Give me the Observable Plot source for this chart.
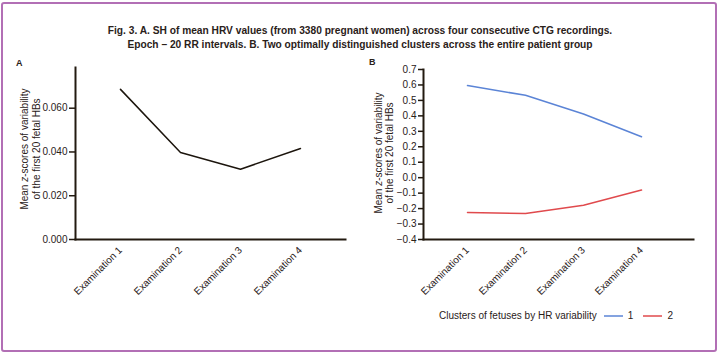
<!DOCTYPE html>
<html><head><meta charset="utf-8">
<script src="https://cdn.jsdelivr.net/npm/d3@7"></script>
<script src="https://cdn.jsdelivr.net/npm/@observablehq/plot@0.6"></script>
<style>
body{margin:0;background:#fff;}
#wrap{position:relative;width:720px;height:356px;overflow:hidden;font-family:"Liberation Sans",Arial,sans-serif;color:#2a2119;background:#fff;}
#frame{position:absolute;left:1px;top:2px;width:712px;height:346px;border:2px solid #b26fb5;border-radius:3px;}
#title{position:absolute;left:0;top:24px;width:720px;text-align:center;font-weight:bold;font-size:10.2px;line-height:13.5px;}
.plab{position:absolute;font-weight:bold;font-size:9px;line-height:10px;}
.panel{position:absolute;}
#legend{position:absolute;left:439px;top:309px;font-size:10px;line-height:14px;display:flex;align-items:center;white-space:nowrap;}
#legend svg{display:block;}
</style></head>
<body>
<div id="wrap">
  <div id="frame"></div>
  <div id="title">Fig. 3. A. SH of mean HRV values (from 3380 pregnant women) across four consecutive CTG recordings.<br>Epoch – 20 RR intervals. B. Two optimally distinguished clusters across the entire patient group</div>
  <div class="plab" style="left:16px;top:58px;">A</div>
  <div class="plab" style="left:369px;top:57px;">B</div>
  <div class="panel" id="pa" style="left:0;top:60px;"></div>
  <div class="panel" id="pb" style="left:360px;top:60px;"></div>
  <div id="legend"></div>
</div>
<script>
const exams = ["Examination 1", "Examination 2", "Examination 3", "Examination 4"];
const meanA = [0.0686, 0.0398, 0.0321, 0.0416];
const cluster1 = [0.596, 0.533, 0.412, 0.265];
const cluster2 = [-0.225, -0.232, -0.178, -0.080];
const clusterNames = ["1", "2"];
const clusterColors = ["#5b84d6", "#e04a4d"];
const ticksA = [0, 0.02, 0.04, 0.06];
const ticksB = [-0.4, -0.3, -0.2, -0.1, 0.0, 0.1, 0.2, 0.3, 0.4, 0.5, 0.6, 0.7];
const yLabel1 = ["Mean ", "z", "-scores of variability"];
const yLabel2 = "of the first 20 fetal HBs";
const legendTitle = "Clusters of fetuses by HR variability";

const dataA = exams.map((e, i) => ({exam: e, value: meanA[i]}));
const dataB = [];
exams.forEach((e, i) => dataB.push({exam: e, value: cluster1[i], cluster: clusterNames[0]}));
exams.forEach((e, i) => dataB.push({exam: e, value: cluster2[i], cluster: clusterNames[1]}));

const ink = "#2a2119";
const axisInk = "#231a10";
const style = {fontFamily: '"Liberation Sans", Arial, sans-serif', fontSize: "10px", color: ink, background: "transparent", overflow: "visible"};

const plotA = Plot.plot({
  width: 360, height: 240,
  marginLeft: 75, marginRight: 15, marginTop: 7, marginBottom: 61,
  style,
  x: {type: "point", domain: exams, padding: 0.72, label: null},
  y: {domain: [0, 0.0786], label: null},
  marks: [
    Plot.axisY({ticks: ticksA, tickFormat: d3.format(".3f"), tickSize: 6, tickPadding: 2, label: null, stroke: axisInk, strokeWidth: 1.5, strokeOpacity: 1}),
    Plot.axisX({tickSize: 0, tickRotate: -45, tickPadding: 9, label: null}),
    Plot.frame({anchor: "left", stroke: axisInk, strokeWidth: 2}),
    Plot.frame({anchor: "bottom", stroke: axisInk, strokeWidth: 2}),
    Plot.line(dataA, {x: "exam", y: "value", stroke: "#1c150d", strokeWidth: 1.5})
  ]
});

const plotB = Plot.plot({
  width: 360, height: 240,
  marginLeft: 63, marginRight: 27, marginTop: 9, marginBottom: 61,
  style,
  x: {type: "point", domain: exams, padding: 0.815, align: 0.46, label: null},
  y: {domain: [-0.4, 0.7], label: null},
  color: {domain: clusterNames, range: clusterColors},
  marks: [
    Plot.axisY({ticks: ticksB, tickFormat: d3.format(".1f"), tickSize: 5, tickPadding: 2, label: null, stroke: axisInk, strokeWidth: 1.5, strokeOpacity: 1}),
    Plot.axisX({tickSize: 0, tickRotate: -45, tickPadding: 9, label: null}),
    Plot.frame({anchor: "left", stroke: axisInk, strokeWidth: 2}),
    Plot.frame({anchor: "bottom", stroke: axisInk, strokeWidth: 2}),
    Plot.line(dataB, {x: "exam", y: "value", z: "cluster", stroke: "cluster", strokeWidth: 1.5})
  ]
});

function addYLabel(svg, x1, x2, cy) {
  const s = d3.select(svg);
  const t1 = s.append("text").attr("transform", `translate(${x1},${cy}) rotate(-90)`)
    .attr("text-anchor", "middle").attr("fill", ink).attr("font-size", 10);
  yLabel1.forEach((p, i) => t1.append("tspan").attr("font-style", i === 1 ? "italic" : null).text(p));
  s.append("text").attr("transform", `translate(${x2},${cy}) rotate(-90)`)
    .attr("text-anchor", "middle").attr("fill", ink).attr("font-size", 10).text(yLabel2);
}
addYLabel(plotA, 27.5, 39.5, 89);
addYLabel(plotB, 21.5, 33, 93);

document.getElementById("pa").appendChild(plotA);
document.getElementById("pb").appendChild(plotB);

const leg = d3.select("#legend");
leg.append("span").text(legendTitle).style("margin-right", "7px");
clusterNames.forEach((c, i) => {
  const sv = leg.append("svg").attr("width", 20).attr("height", 10);
  sv.append("line").attr("x1", 0).attr("x2", 19).attr("y1", 5).attr("y2", 5).attr("stroke", clusterColors[i]).attr("stroke-width", 1.5);
  leg.append("span").text(c).style("margin-left", "4px").style("margin-right", i === 0 ? "10px" : "0");
});
</script>
</body></html>
